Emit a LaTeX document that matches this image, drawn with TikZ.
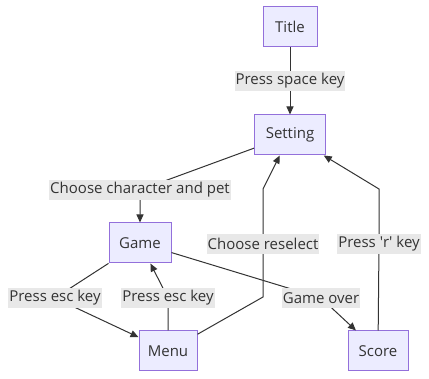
\documentclass[tikz,border=0pt]{standalone}
\usepackage{fontspec}
\setmainfont{Open Sans}
\usetikzlibrary{arrows.meta}
\definecolor{boxfill}{HTML}{ECECFF}
\definecolor{boxline}{HTML}{9370DB}
\definecolor{ink}{HTML}{333333}
\definecolor{lblfill}{HTML}{E8E8E8}
\tikzset{
  state/.style={draw=boxline, fill=boxfill, line width=1pt, text=ink,
    minimum height=40pt, inner sep=0pt, font=\fontsize{15}{17}\selectfont},
  lbl/.style={fill=lblfill, text=ink, inner xsep=1pt, inner ysep=0pt,
    minimum height=20pt, font=\fontsize{15}{17}\selectfont},
  flow/.style={draw=ink, line width=1pt, -{Triangle[length=8pt,width=7pt]}},
}
\begin{document}
\begin{tikzpicture}[x=1pt,y=-1pt]
\useasboundingbox (0,0) rectangle (429,379);
% states
\node[state, minimum width=54pt] (T)  at (290,27)  {Title};
\node[state, minimum width=71pt] (S)  at (290,135) {Setting};
\node[state, minimum width=62pt] (G)  at (140,243) {Game};
\node[state, minimum width=58pt] (M)  at (168,351) {Menu};
\node[state, minimum width=60pt] (Sc) at (378,351) {Score};
% bend points
\coordinate (cp)  at (140,190);
\coordinate (el)  at (55,298);
\coordinate (em)  at (168,298);
\coordinate (rs1) at (263,297);
\coordinate (rs2) at (263,189);
\coordinate (rsm) at (263,244);
\coordinate (go)  at (321,298);
\coordinate (rkm) at (379,244);
\coordinate (rk2) at (379,189);
% transitions
\draw[flow] (T) -- node[lbl]{Press space key} (S);
\draw[flow] (S) -- (cp) node[lbl]{Choose character and pet} -- (G);
\draw[flow] (G) -- (el) node[lbl]{Press esc key} -- (M);
\draw[flow] (M) -- (em) node[lbl]{Press esc key} -- (G);
\draw[flow] (M) -- (rs1) -- (rsm) node[lbl]{Choose reselect} -- (rs2) -- (S);
\draw[flow] (G) -- (go) node[lbl]{Game over} -- (Sc);
\draw[flow] (Sc) -- (rkm) node[lbl]{Press \textquotesingle r\textquotesingle{} key} -- (rk2) -- (S);
\end{tikzpicture}
\end{document}
